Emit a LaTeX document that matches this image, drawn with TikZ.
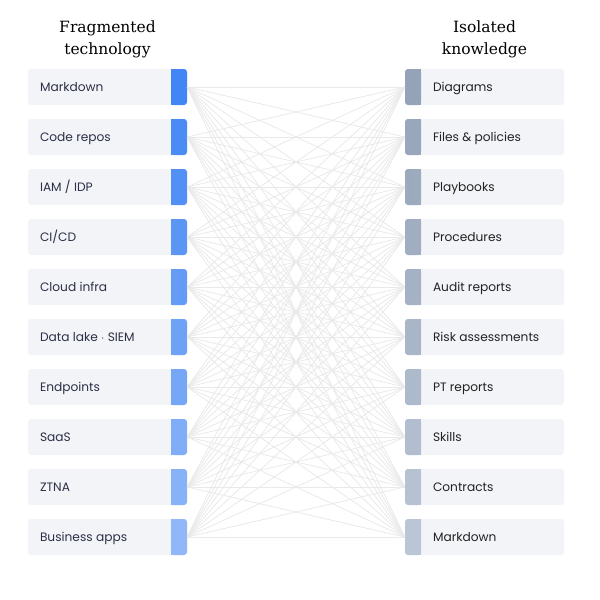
\documentclass[tikz,border=0pt]{standalone}
\usepackage{fontspec}
\setmainfont{Poppins}
\newfontfamily\titlefont{DejaVu Serif}
\usetikzlibrary{positioning}
\definecolor{boxfill}{HTML}{F3F4F8}
\definecolor{lefttop}{HTML}{4285F4}
\definecolor{leftbot}{HTML}{90B8F8}
\definecolor{righttop}{HTML}{94A3B8}
\definecolor{rightbot}{HTML}{BAC5D5}
\definecolor{wire}{HTML}{E9E9E9}
\definecolor{lefttext}{HTML}{2B3045}
\definecolor{righttext}{HTML}{222222}
\begin{document}
\begin{tikzpicture}[
    x=1pt, y=-1pt,
    itembox/.style = {shape=rectangle, fill=boxfill, rounded corners=3pt,
        minimum width=159pt, minimum height=36pt, inner sep=0pt},
    tabbox/.style = {shape=rectangle, rounded corners=3pt,
        minimum width=16pt, minimum height=36pt, inner sep=0pt},
    itemtext/.style = {inner sep=0pt, text height=9.4pt, text depth=0pt,
        font=\fontsize{12.2}{15}\selectfont},
    heading/.style = {align=center, font=\titlefont\fontsize{15.5}{22}\selectfont}
    ]
    \useasboundingbox (0,0) rectangle (600,600);
    % column titles
    \node[heading] (lefthead) at (107.5,39) {Fragmented\\technology};
    \node[heading] (righthead) at (484.5,39) {Isolated\\knowledge};
    % left column
    \foreach \name [count=\i from 0] in {Markdown, Code repos, IAM / IDP, CI/CD,
        Cloud infra, Data lake $\cdot$ SIEM, Endpoints, SaaS, ZTNA, Business apps} {
        \pgfmathtruncatemacro{\p}{round(100*\i/9)}
        \colorlet{tabc}{leftbot!\p!lefttop}
        \node[itembox] (l\i) at (107.5,87+50*\i) {};
        \node[tabbox, fill=tabc, anchor=east] (lt\i) at (l\i.east) {};
        \fill[tabc] (lt\i.north west) rectangle (lt\i.south);
        \node[itemtext, text=lefttext, anchor=west, right=12pt of l\i.west] (lx\i) {\name};
    }
    % right column
    \foreach \name [count=\i from 0] in {Diagrams, Files \& policies, Playbooks,
        Procedures, Audit reports, Risk assessments, PT reports, Skills,
        Contracts, Markdown} {
        \pgfmathtruncatemacro{\p}{round(100*\i/9)}
        \colorlet{tabc}{rightbot!\p!righttop}
        \node[itembox] (r\i) at (484.5,87+50*\i) {};
        \node[tabbox, fill=tabc, anchor=west] (rt\i) at (r\i.west) {};
        \fill[tabc] (rt\i.north) rectangle (rt\i.south east);
        \node[itemtext, text=righttext, anchor=west, right=28pt of r\i.west] (rx\i) {\name};
    }
    % every link
    \foreach \i in {0,...,9}
        \foreach \j in {0,...,9}
            \draw[wire, line width=0.8pt] (lt\i.east) -- (rt\j.west);
\end{tikzpicture}
\end{document}
